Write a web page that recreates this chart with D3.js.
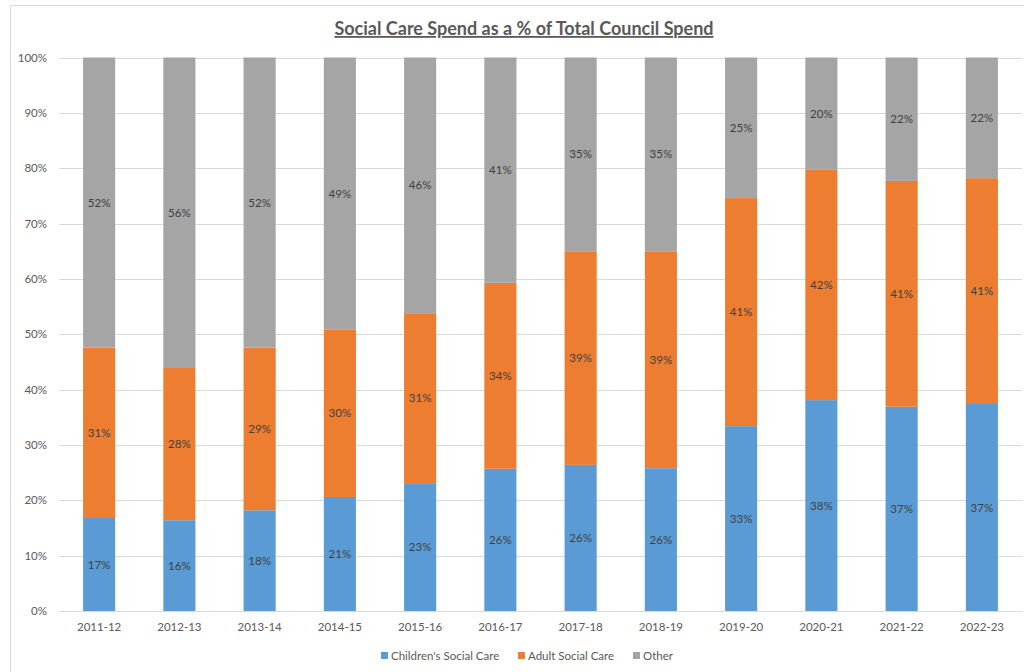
<!DOCTYPE html>
<html>
<head>
<meta charset="utf-8">
<script src="https://cdn.jsdelivr.net/npm/d3@7"></script>
<style>
  body { margin: 0; background: #fff; }
  text { font-family: Lato, "Open Sans", sans-serif; }
</style>
</head>
<body>
<svg id="chart" width="1024" height="672"></svg>
<script>
const years = ['2011-12', '2012-13', '2013-14', '2014-15', '2015-16', '2016-17',
  '2017-18', '2018-19', '2019-20', '2020-21', '2021-22', '2022-23'];
const childrens = [16.8, 16.4, 18.2, 20.6, 23.1, 25.7, 26.4, 25.8, 33.4, 38.1, 36.9, 37.4];
const adult = [30.8, 27.5, 29.4, 30.2, 30.7, 33.6, 38.6, 39.2, 41.2, 41.6, 40.8, 40.8];
const other = [52.4, 56.1, 52.4, 49.2, 46.2, 40.7, 35.0, 35.0, 25.4, 20.3, 22.3, 21.8];
const seriesNames = ["Children's Social Care", 'Adult Social Care', 'Other'];
const yTicks = [0, 10, 20, 30, 40, 50, 60, 70, 80, 90, 100];

const colors = ['#5B9BD5', '#ED7D31', '#A5A5A5'];

const svg = d3.select('#chart');

// chart area border (cut at right / bottom like the screenshot)
svg.append('path')
  .attr('d', 'M10.5,672 V5.5 H1024')
  .attr('fill', 'none')
  .attr('stroke', '#d9d9d9');

// title
svg.append('text')
  .attr('x', 524)
  .attr('y', 35)
  .attr('text-anchor', 'middle')
  .attr('font-size', 18)
  .attr('font-weight', 'bold')
  .attr('fill', '#595959')
  .attr('text-decoration', 'underline')
  .text('Social Care Spend as a % of Total Council Spend');

const x = d3.scaleBand().domain(years).range([59, 1022]).paddingInner(0.6).paddingOuter(0.3);
const y = d3.scaleLinear().domain([0, 100]).range([611, 57.5]);

// gridlines
svg.append('g')
  .selectAll('line')
  .data(yTicks)
  .join('line')
  .attr('x1', 59)
  .attr('x2', 1022)
  .attr('y1', d => Math.round(y(d)) + 0.5)
  .attr('y2', d => Math.round(y(d)) + 0.5)
  .attr('stroke', '#d9d9d9');

// y axis labels
const yAxis = svg.append('g')
  .attr('transform', 'translate(59,0)')
  .call(d3.axisLeft(y).tickValues(yTicks).tickFormat(d => d + '%').tickSize(0).tickPadding(12));
yAxis.select('.domain').remove();
yAxis.selectAll('text').attr('font-size', 11.5).attr('fill', '#595959').attr('font-family', 'Lato, sans-serif');

// x axis labels
const xAxis = svg.append('g')
  .attr('transform', 'translate(0,611)')
  .call(d3.axisBottom(x).tickSize(0).tickPadding(12));
xAxis.select('.domain').remove();
xAxis.selectAll('text').attr('font-size', 11.5).attr('fill', '#595959').attr('font-family', 'Lato, sans-serif');

// stack
const rows = years.map((yr, i) => ({ year: yr, c: childrens[i], a: adult[i], o: other[i] }));
const stacked = d3.stack().keys(['c', 'a', 'o'])(rows);

const layers = svg.append('g')
  .selectAll('g')
  .data(stacked)
  .join('g')
  .attr('fill', (d, i) => colors[i]);

layers.selectAll('rect')
  .data(d => d)
  .join('rect')
  .attr('x', d => x(d.data.year))
  .attr('width', x.bandwidth())
  .attr('y', d => y(d[1]))
  .attr('height', d => y(d[0]) - y(d[1]));

// data labels
layers.selectAll('text')
  .data(d => d)
  .join('text')
  .attr('x', d => x(d.data.year) + x.bandwidth() / 2)
  .attr('y', d => (y(d[0]) + y(d[1])) / 2)
  .attr('dy', '0.35em')
  .attr('text-anchor', 'middle')
  .attr('font-size', 11.5)
  .attr('fill', '#404040')
  .text(d => Math.round(d[1] - d[0]) + '%');

// legend
const legendX = [381, 518, 633];
const legend = svg.append('g')
  .selectAll('g')
  .data(seriesNames)
  .join('g')
  .attr('transform', (d, i) => `translate(${legendX[i]},652)`);
legend.append('rect')
  .attr('width', 7)
  .attr('height', 7)
  .attr('fill', (d, i) => colors[i]);
legend.append('text')
  .attr('x', 10)
  .attr('y', 8)
  .attr('font-size', 11.5)
  .attr('fill', '#595959')
  .text(d => d);
</script>
</body>
</html>
